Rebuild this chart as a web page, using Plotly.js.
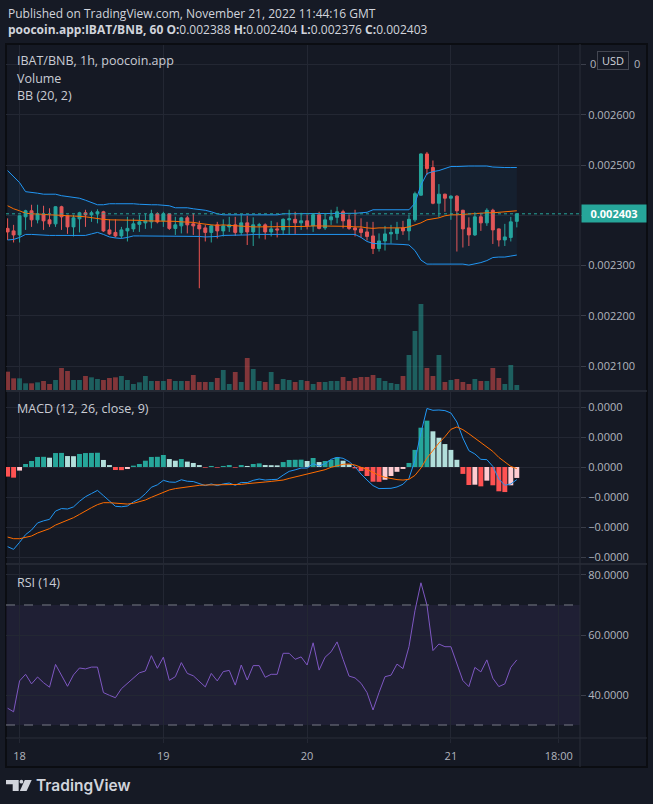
<!DOCTYPE html>
<html><head><meta charset="utf-8">
<script src="https://cdn.plot.ly/plotly-3.0.1.min.js"></script>
<style>html,body{margin:0;padding:0;background:#161a25;}#chart{width:653px;height:804px;}</style>
</head><body><div id="chart"></div>
<script>
// ---- DATA (prices in units of 1e-6 BNB, hourly candles from 2022-11-17 22:00 UTC) ----
const startTime = '2022-11-17T22:00:00Z';
const opens  = [2374,2369,2361,2397,2409,2391,2402,2391,2383,2417,2399,2377,2393,2405,2401,2403,2407,2371,2366,2359,2369,2373,2382,2385,2387,2403,2389,2403,2374,2379,2395,2383,2381,2375,2366,2381,2369,2377,2381,2366,2385,2367,2380,2381,2367,2373,2371,2391,2392,2385,2389,2379,2401,2375,2391,2396,2407,2391,2375,2373,2367,2359,2334,2349,2363,2364,2375,2369,2391,2440,2522,2495,2424,2442,2434,2438,2410,2375,2361,2397,2385,2410,2373,2351,2356,2388];
const highs  = [2394,2381,2400,2411,2421,2421,2419,2414,2418,2419,2401,2401,2407,2411,2409,2412,2409,2392,2392,2377,2397,2394,2401,2403,2411,2406,2407,2404,2397,2397,2399,2404,2389,2381,2381,2387,2392,2397,2397,2401,2399,2396,2385,2384,2389,2386,2394,2411,2407,2405,2401,2403,2407,2404,2411,2417,2411,2401,2411,2394,2387,2387,2364,2379,2381,2387,2389,2401,2447,2523,2526,2509,2462,2443,2440,2440,2411,2396,2406,2405,2414,2413,2374,2383,2397,2404];
const lows   = [2351,2346,2346,2371,2377,2384,2371,2377,2377,2371,2363,2358,2366,2377,2387,2384,2367,2361,2356,2354,2348,2367,2367,2373,2374,2384,2377,2371,2361,2364,2364,2361,2255,2348,2346,2354,2358,2367,2359,2361,2341,2339,2354,2352,2358,2356,2361,2361,2363,2371,2372,2367,2372,2371,2381,2384,2374,2371,2358,2356,2350,2323,2328,2330,2344,2351,2361,2350,2387,2439,2480,2422,2396,2407,2391,2328,2336,2339,2359,2369,2379,2343,2338,2339,2348,2376];
const closes = [2367,2361,2399,2409,2391,2402,2389,2383,2417,2397,2377,2395,2405,2401,2405,2407,2369,2363,2359,2371,2374,2383,2387,2389,2403,2387,2403,2374,2381,2395,2381,2379,2373,2366,2379,2369,2379,2381,2366,2385,2367,2381,2381,2367,2373,2371,2392,2393,2385,2389,2379,2401,2374,2391,2397,2407,2389,2374,2371,2366,2358,2334,2349,2363,2366,2374,2369,2392,2443,2522,2493,2424,2442,2434,2438,2409,2373,2361,2397,2385,2410,2371,2351,2357,2387,2403];
const volumes = [55,35,35,20,20,23,27,18,30,66,57,30,30,42,38,33,30,36,38,42,30,18,23,42,27,27,27,33,27,27,27,45,24,24,24,36,60,18,54,24,96,63,27,24,54,18,33,30,24,30,27,18,24,24,27,27,39,27,36,39,39,45,36,27,21,18,42,105,177,258,66,42,105,24,30,33,24,18,33,27,27,66,36,18,75,15];
const bbUpper = [2489,2477,2465,2447,2446,2444,2442,2442,2442,2439,2437,2436,2434,2430,2425,2421,2421,2423,2423,2423,2424,2423,2422,2421,2421,2421,2420,2419,2415,2415,2415,2413,2412,2410,2407,2403,2401,2401,2401,2401,2401,2401,2401,2401,2401,2401,2403,2403,2403,2403,2403,2404,2404,2404,2404,2404,2404,2404,2404,2405,2406,2411,2411,2412,2412,2412,2411,2411,2424,2460,2483,2487,2489,2493,2497,2497,2498,2498,2498,2498,2498,2496,2495,2495,2495,2495];
const bbLower = [2351,2352,2356,2362,2362,2361,2361,2360,2360,2360,2359,2359,2359,2360,2363,2366,2362,2357,2355,2354,2356,2359,2359,2359,2359,2359,2359,2359,2358,2358,2358,2358,2358,2357,2357,2358,2360,2360,2361,2361,2361,2362,2362,2362,2362,2362,2362,2363,2363,2363,2362,2362,2362,2362,2362,2362,2362,2362,2362,2356,2348,2344,2343,2343,2343,2343,2342,2341,2330,2311,2303,2303,2303,2304,2304,2304,2303,2301,2303,2306,2310,2316,2317,2317,2319,2321];
const bbBasis = [2419,2413,2409,2404,2403,2403,2402,2401,2401,2400,2399,2399,2398,2397,2395,2393,2392,2391,2391,2391,2390,2390,2390,2389,2389,2389,2389,2388,2388,2387,2387,2386,2384,2382,2381,2380,2381,2380,2379,2379,2378,2377,2377,2377,2377,2377,2377,2377,2377,2377,2378,2379,2379,2379,2379,2379,2379,2378,2377,2377,2375,2374,2375,2375,2375,2375,2375,2377,2381,2385,2391,2393,2395,2399,2401,2401,2402,2403,2403,2404,2405,2405,2406,2407,2407,2409];
// MACD values in units of 1e-5
const macdLine = [-5.31,-5.49,-5.02,-4.51,-4.2,-3.73,-3.59,-3.49,-2.94,-2.77,-2.8,-2.66,-2.29,-1.98,-1.77,-1.56,-1.91,-2.25,-2.62,-2.65,-2.6,-2.33,-2.13,-1.78,-1.35,-1.19,-0.89,-1.0,-1.02,-0.85,-0.95,-0.97,-1.09,-1.24,-1.13,-1.24,-1.13,-1.07,-1.22,-1.03,-1.04,-0.89,-0.8,-0.87,-0.84,-0.82,-0.54,-0.29,-0.19,-0.07,-0.07,0.22,0.06,0.22,0.51,0.64,0.58,0.36,0.02,-0.47,-0.87,-1.24,-1.44,-1.45,-1.42,-1.33,-1.15,-0.75,0.45,2.27,3.9,3.78,3.8,3.76,3.6,3.0,1.93,1.09,0.87,0.51,0.49,0.04,-0.8,-1.22,-1.13,-0.84];
const macdSignal = [-4.67,-4.78,-4.78,-4.71,-4.6,-4.4,-4.27,-4.11,-3.87,-3.71,-3.53,-3.38,-3.16,-2.91,-2.71,-2.51,-2.38,-2.38,-2.42,-2.44,-2.47,-2.42,-2.33,-2.2,-2.02,-1.87,-1.69,-1.53,-1.44,-1.38,-1.31,-1.24,-1.22,-1.2,-1.2,-1.2,-1.2,-1.2,-1.18,-1.16,-1.11,-1.09,-1.04,-1.0,-0.96,-0.93,-0.87,-0.76,-0.67,-0.56,-0.47,-0.38,-0.27,-0.18,-0.02,0.09,0.18,0.2,0.13,-0.02,-0.16,-0.36,-0.56,-0.69,-0.78,-0.84,-0.87,-0.82,-0.56,-0.07,0.6,1.11,1.6,2.02,2.51,2.67,2.49,2.22,1.93,1.67,1.38,1.04,0.64,0.31,0.04,-0.11];
const macdHist = [-0.64,-0.71,-0.24,0.2,0.4,0.67,0.68,0.62,0.93,0.94,0.73,0.72,0.87,0.93,0.94,0.95,0.47,0.13,-0.2,-0.21,-0.13,0.09,0.2,0.42,0.67,0.68,0.8,0.53,0.42,0.53,0.36,0.27,0.13,-0.04,0.07,-0.04,0.07,0.13,-0.04,0.13,0.07,0.2,0.24,0.13,0.12,0.11,0.33,0.47,0.48,0.49,0.4,0.6,0.33,0.4,0.47,0.64,0.42,0.18,-0.09,-0.27,-0.6,-0.98,-0.99,-0.85,-0.6,-0.32,-0.13,0.27,1.14,2.62,3.09,2.38,1.95,1.53,1.14,0.48,-0.46,-1.2,-1.18,-1.29,-0.91,-1.22,-1.62,-1.67,-1.22,-0.73];
const rsiValues = [35.6,34.4,44.7,46.9,43.7,46.0,44.1,42.6,50.2,46.7,42.9,46.7,49.0,48.7,49.3,49.3,40.8,39.9,39.1,42.1,43.9,45.9,47.4,48.0,53.1,48.9,52.6,44.9,46.1,50.8,47.2,46.4,44.7,42.7,47.2,44.7,47.8,48.2,43.3,50.0,45.0,49.8,49.8,45.9,46.9,46.9,53.9,53.9,51.9,52.7,50.0,57.4,48.3,52.6,54.4,57.7,51.9,46.3,45.7,43.9,40.8,35.0,40.8,46.1,46.6,50.3,48.8,56.1,68.1,77.4,70.0,54.8,57.0,56.1,56.1,50.6,44.8,42.8,49.2,47.7,51.7,45.6,42.8,43.7,49.2,51.7];

const xRange = ['2022-11-17 21:44', '2022-11-21 21:33'];
const xTickVals = ['2022-11-18', '2022-11-19', '2022-11-20', '2022-11-21', '2022-11-21 18:00'];
const xTickText = ['18', '19', '20', '21', '18:00'];
// 0.002400 sits under the last-price label and 0.002700 under the USD badge (only its end digits show)
const priceTickVals = [2100, 2200, 2300, 2400, 2500, 2600, 2700];
const priceTickText = ['0.002100', '0.002200', '0.002300', '', '0.002500', '0.002600', ''];
const macdTickVals = [4, 2, 0, -2, -4, -6];
const macdTickText = ['0.0000', '0.0000', '0.0000', '\u22120.0000', '\u22120.0000', '\u22120.0000'];
const rsiTickVals = [80, 60, 40];
const rsiTickText = ['80.0000', '60.0000', '40.0000'];
const rsiBands = [70, 30];

// ---- STYLE ----
const BG = '#161a25', FRAME_BG = '#151924', GRID = '#232733', SEP = '#2a2e39';
const TXT = '#b2b5be', TXT2 = '#d1d4dc';
const UP = '#26a69a', DN = '#ef5350';
const W = 653, H = 804, ML = 6, MR = 73, MT = 45, MB = 66;
const PW = W - ML - MR, PH = H - MT - MB;
const px = x => (x - ML) / PW;
const py = y => (H - MB - y) / PH;

const t0 = Date.parse(startTime);
const times = closes.map((_, i) => new Date(t0 + i * 3600000).toISOString().slice(0, 16).replace('T', ' '));
const n = closes.length;
const volColors = closes.map((c, i) => c >= opens[i] ? 'rgba(38,166,154,0.5)' : 'rgba(239,83,80,0.5)');
const histColors = macdHist.map((h, i) => {
  const prev = i > 0 ? macdHist[i - 1] : (h < 0 ? 0 : -1);
  if (h >= 0) return h >= prev ? '#26a69a' : '#b2dfdb';
  return h <= prev ? '#ff5252' : '#ffcdd2';
});

const traces = [
  {type: 'scatter', mode: 'lines', x: times, y: bbUpper, xaxis: 'x', yaxis: 'y', line: {color: '#2196f3', width: 1}, hoverinfo: 'skip'},
  {type: 'scatter', mode: 'lines', x: times, y: bbLower, xaxis: 'x', yaxis: 'y', line: {color: '#2196f3', width: 1}, fill: 'tonexty', fillcolor: 'rgba(33,150,243,0.06)', hoverinfo: 'skip'},
  {type: 'scatter', mode: 'lines', x: times, y: bbBasis, xaxis: 'x', yaxis: 'y', line: {color: '#ff6d00', width: 1}, hoverinfo: 'skip'},
  {type: 'candlestick', x: times, open: opens, high: highs, low: lows, close: closes, xaxis: 'x', yaxis: 'y',
   increasing: {line: {color: UP, width: 1}, fillcolor: UP}, decreasing: {line: {color: DN, width: 1}, fillcolor: DN},
   whiskerwidth: 0, hoverinfo: 'skip'},
  {type: 'bar', x: times, y: volumes, xaxis: 'x', yaxis: 'y4', marker: {color: volColors, line: {width: 0}}, width: 3600000 * 0.8, hoverinfo: 'skip'},
  {type: 'bar', x: times, y: macdHist, xaxis: 'x', yaxis: 'y2', marker: {color: histColors, line: {width: 0}}, width: 3600000 * 0.82, hoverinfo: 'skip'},
  {type: 'scatter', mode: 'lines', x: times, y: macdLine, xaxis: 'x', yaxis: 'y2', line: {color: '#2196f3', width: 1}, hoverinfo: 'skip'},
  {type: 'scatter', mode: 'lines', x: times, y: macdSignal, xaxis: 'x', yaxis: 'y2', line: {color: '#ff6d00', width: 1}, hoverinfo: 'skip'},
  {type: 'scatter', mode: 'lines', x: times, y: rsiValues, xaxis: 'x', yaxis: 'y3', line: {color: '#7e57c2', width: 1}, hoverinfo: 'skip'}
];

const yCommon = {side: 'right', anchor: 'x', showgrid: true, gridcolor: GRID, gridwidth: 1, zeroline: false, showline: false,
  ticks: 'outside', ticklen: 5, tickcolor: '#3b3f4b', tickfont: {family: 'Open Sans', size: 11, color: TXT}, automargin: false, fixedrange: true};

const fmt = v => (v / 1e6).toFixed(6);
const last = n - 1;
const headerText = '<b>poocoin.app:IBAT/BNB, 60</b> <b>O:</b>' + fmt(opens[last]) + ' <b>H:</b>' + fmt(highs[last]) +
  ' <b>L:</b>' + fmt(lows[last]) + ' <b>C:</b>' + fmt(closes[last]);

const P = (x, y) => px(x) + ',' + py(y);
const shapes = [
  {type: 'rect', xref: 'paper', yref: 'paper', x0: px(6), x1: px(647), y0: py(767), y1: py(44), fillcolor: FRAME_BG, line: {color: '#0b0d12', width: 2}, layer: 'below'},
  {type: 'rect', xref: 'paper', yref: 'y3', x0: 0, x1: 1, y0: rsiBands[1], y1: rsiBands[0], fillcolor: 'rgba(126,87,194,0.1)', line: {width: 0}, layer: 'below'},
  {type: 'line', xref: 'paper', yref: 'y3', x0: 0, x1: 1, y0: rsiBands[0], y1: rsiBands[0], line: {color: '#787b86', width: 1, dash: 'dash'}},
  {type: 'line', xref: 'paper', yref: 'y3', x0: 0, x1: 1, y0: rsiBands[1], y1: rsiBands[1], line: {color: '#787b86', width: 1, dash: 'dash'}},
  {type: 'line', xref: 'paper', yref: 'y', x0: 0, x1: 1, y0: closes[last], y1: closes[last], line: {color: UP, width: 1, dash: 'dot'}},
  {type: 'line', xref: 'paper', yref: 'paper', x0: px(580), x1: px(580), y0: py(767), y1: py(44), line: {color: SEP, width: 1}},
  {type: 'line', xref: 'paper', yref: 'paper', x0: px(6), x1: px(647), y0: py(738), y1: py(738), line: {color: SEP, width: 1}},
  {type: 'line', xref: 'paper', yref: 'paper', x0: px(6), x1: px(647), y0: py(391), y1: py(391), line: {color: SEP, width: 1.5}},
  {type: 'line', xref: 'paper', yref: 'paper', x0: px(6), x1: px(647), y0: py(564), y1: py(564), line: {color: SEP, width: 1.5}},
  // TradingView logo icon
  {type: 'path', xref: 'paper', yref: 'paper', path: 'M' + P(6, 780) + ' L' + P(18.7, 780) + ' L' + P(18.7, 791) + ' L' + P(12.7, 791) + ' L' + P(12.7, 784.3) + ' L' + P(6, 784.3) + ' Z', fillcolor: TXT2, line: {width: 0}},
  {type: 'circle', xref: 'paper', yref: 'paper', x0: px(19.5), x1: px(23.3), y0: py(783.6), y1: py(779.8), fillcolor: TXT2, line: {width: 0}},
  {type: 'path', xref: 'paper', yref: 'paper', path: 'M' + P(24.8, 780) + ' L' + P(31.7, 780) + ' L' + P(26.6, 791) + ' L' + P(19.8, 791) + ' Z', fillcolor: TXT2, line: {width: 0}}
];

const ann = (text, x, y, size, color, extra) => Object.assign({text, xref: 'paper', yref: 'paper', x: px(x), y: py(y), xanchor: 'left', yanchor: 'middle', showarrow: false, font: {family: 'Open Sans', size, color}}, extra || {});
const annotations = [
  ann('Published on TradingView.com, November 21, 2022 11:44:16 GMT', 6, 13, 12, TXT2),
  ann(headerText, 6, 30, 12, TXT2),
  ann('IBAT/BNB, 1h, poocoin.app', 15, 61, 12.5, '#c9ccd4'),
  ann('Volume', 15, 78, 12.5, '#c9ccd4'),
  ann('BB (20, 2)', 15, 95, 12.5, '#c9ccd4'),
  ann('MACD (12, 26, close, 9)', 15, 408, 12.5, '#c9ccd4'),
  ann('RSI (14)', 15, 582, 12.5, '#c9ccd4'),
  {text: '<b>' + fmt(closes[last]) + '</b>', xref: 'paper', yref: 'y', x: px(581), y: closes[last], xanchor: 'left', yanchor: 'middle', showarrow: false,
   font: {family: 'Open Sans', size: 11, color: '#ffffff'}, bgcolor: UP, width: 61, height: 14, borderpad: 1.5, align: 'center'},
  // visible end digits of the 0.002700 label on each side of the USD badge
  ann('0', 587.5, 63, 11, TXT),
  ann('0', 632, 63, 11, TXT),
  {text: 'USD', xref: 'paper', yref: 'paper', x: px(613), y: py(61), xanchor: 'center', yanchor: 'middle', showarrow: false,
   font: {family: 'Open Sans', size: 11, color: TXT2}, bgcolor: FRAME_BG, bordercolor: '#434651', borderwidth: 1, borderpad: 2, width: 26, height: 13},
  ann('TradingView', 34, 785, 15.5, TXT2, {font: {family: 'Inter', size: 15.5, color: TXT2, weight: 600}})
];

const layout = {
  width: W, height: H, margin: {l: ML, r: MR, t: MT, b: MB},
  paper_bgcolor: BG, plot_bgcolor: 'rgba(0,0,0,0)',
  font: {family: 'Open Sans', size: 11, color: TXT},
  showlegend: false, hovermode: false, dragmode: false, barmode: 'overlay',
  xaxis: {type: 'date', domain: [0, 1], anchor: 'y3', range: xRange, tickmode: 'array', tickvals: xTickVals, ticktext: xTickText,
    showgrid: true, gridcolor: GRID, zeroline: false, showline: false, ticks: 'outside', ticklen: 4, tickcolor: GRID, ticklabelstandoff: 4,
    tickfont: {family: 'Open Sans', size: 11, color: TXT}, rangeslider: {visible: false}, automargin: false, fixedrange: true},
  yaxis: Object.assign({}, yCommon, {domain: [py(390), 1], range: [2052.7, 2738.6], tickmode: 'array', tickvals: priceTickVals, ticktext: priceTickText}),
  yaxis2: Object.assign({}, yCommon, {domain: [py(563), py(392)], range: [-6.4, 5.0], tickmode: 'array', tickvals: macdTickVals, ticktext: macdTickText}),
  yaxis3: Object.assign({}, yCommon, {domain: [0, py(565)], range: [25.67, 83.33], tickmode: 'array', tickvals: rsiTickVals, ticktext: rsiTickText}),
  yaxis4: {overlaying: 'y', anchor: 'x', side: 'right', range: [0, 1035], visible: false, showgrid: false, fixedrange: true},
  shapes, annotations
};

Plotly.newPlot('chart', traces, layout, {staticPlot: true, displayModeBar: false});
</script></body></html>
